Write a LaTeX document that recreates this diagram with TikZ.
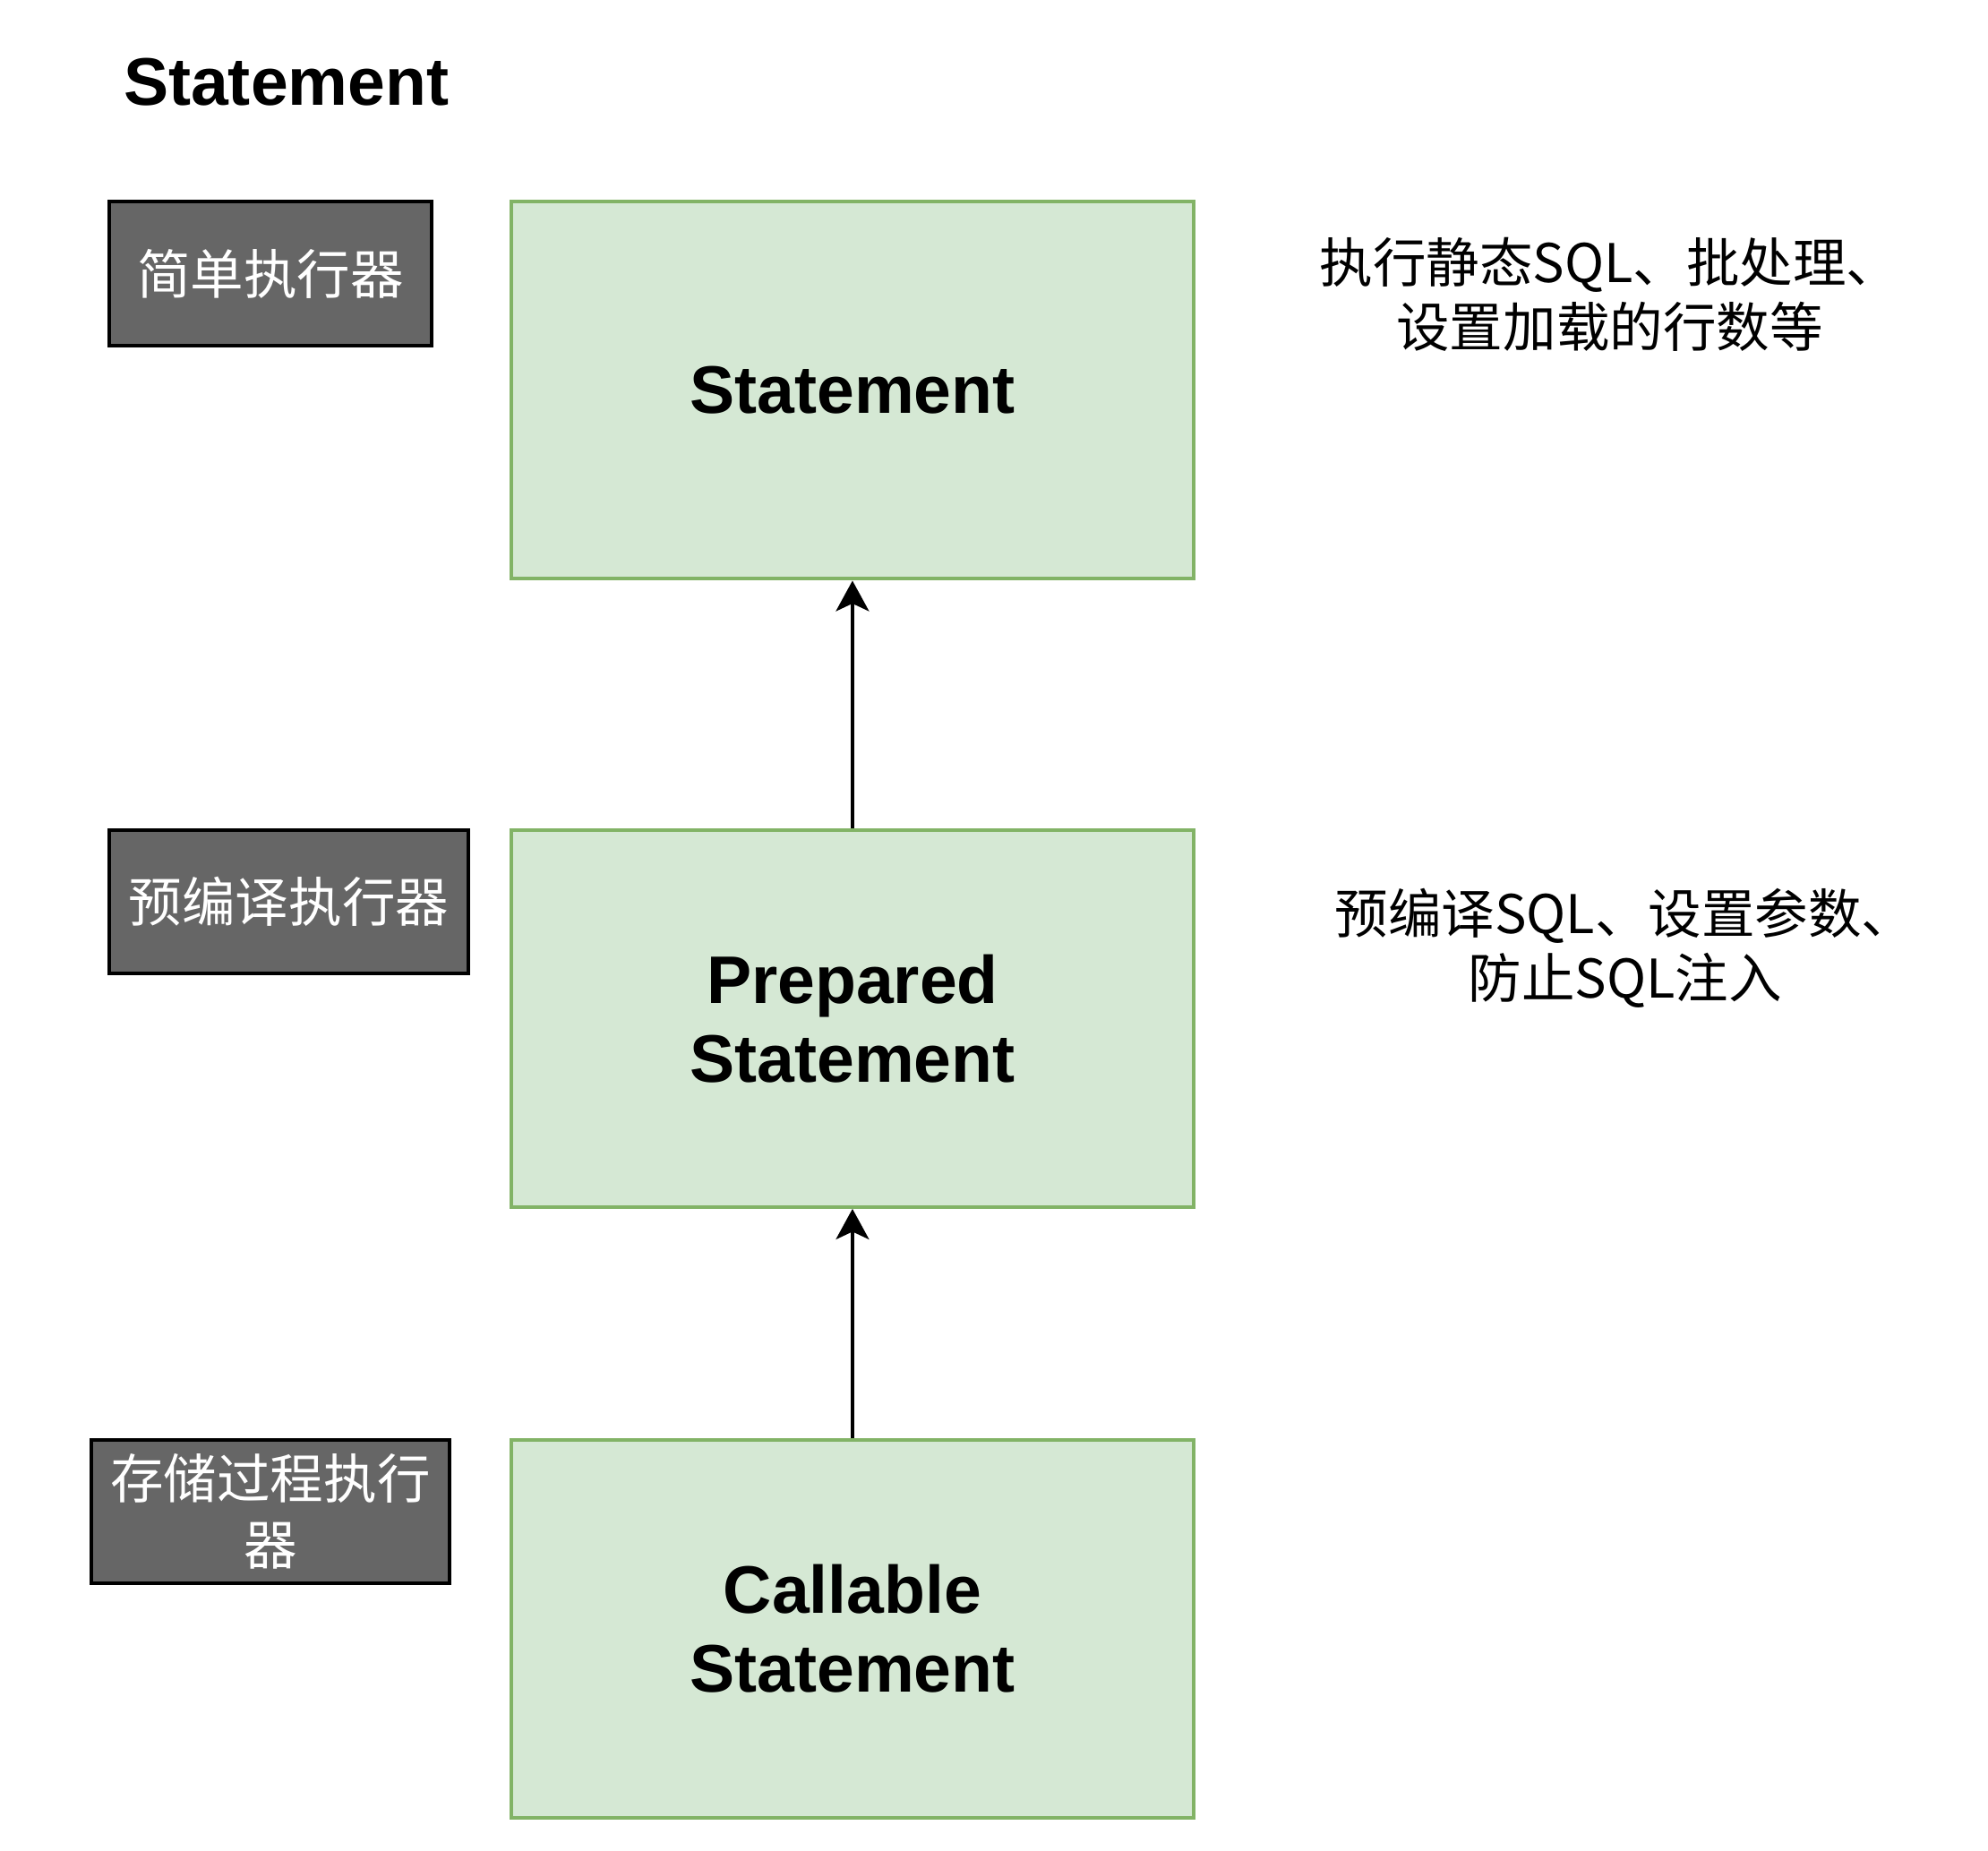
\documentclass[tikz,border=0pt]{standalone}
\usepackage{fontspec}
\setmainfont{Liberation Sans}
\newfontfamily\cjk{Noto Sans CJK SC}
\usetikzlibrary{positioning, arrows.meta}
\definecolor{clsfill}{HTML}{D5E8D4}
\definecolor{clsline}{HTML}{82B366}
\definecolor{tagfill}{HTML}{666666}
\tikzstyle{arrow} = [line width=1.4pt,-{Stealth[length=12pt,width=13pt,inset=3pt]}]
\tikzstyle{cls} = [rectangle, draw=clsline, fill=clsfill, line width=1.4pt, minimum width=268.5pt, minimum height=148.5pt, align=center, font=\fontsize{26.5}{31}\selectfont\bfseries]
\tikzstyle{tag} = [rectangle, draw=black, fill=tagfill, line width=1.4pt, text=white, align=center, minimum height=56.5pt, inner sep=0pt, font=\cjk\fontsize{21}{26}\selectfont]
\tikzstyle{note} = [align=center, font=\cjk\fontsize{21}{25.5}\selectfont]
\begin{document}
\begin{tikzpicture}[x=0.5pt,y=-0.5pt]
\useasboundingbox (0,0) rectangle (1566,1458);
\node [anchor=base west, inner sep=0pt, font=\fontsize{26.5}{31}\selectfont\bfseries] (title) at (97,83) {Statement};

\node [cls] (st) at (671.5,307.5) {Statement};
\node [cls] (ps) [below=97.5pt of st] {Prepared\\Statement};
\node [cls] (cs) [below=90.5pt of ps] {Callable\\Statement};
\draw [arrow] (ps) to (st);
\draw [arrow] (cs) to (ps);

\node [tag, minimum width=127pt] (simple) at (213,215.5) {简单执行器};
\node [tag, minimum width=141.5pt] (prep) at (227.5,710.5) {预编译执行器};
\node [tag, minimum width=141pt] (call) at (213,1190.5) {存储过程执行\\器};

\node [note] (stnote) at (1268,232) {执行静态SQL、批处理、\\设置加载的行数等};
\node [note] (psnote) at (1280,747) {预编译SQL、设置参数、\\防止SQL注入};
\end{tikzpicture}
\end{document}
